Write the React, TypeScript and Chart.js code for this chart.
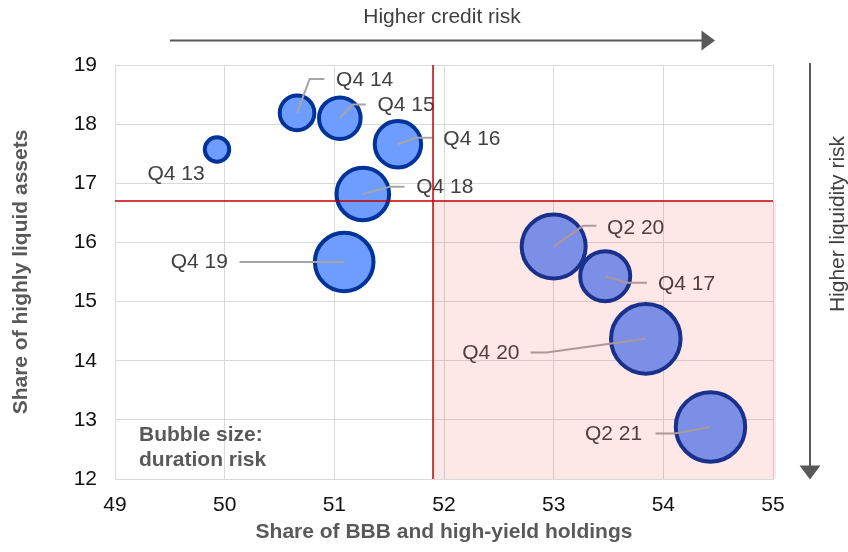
import { useEffect, useRef } from "react";
import { Chart, registerables } from "chart.js";

Chart.register(...registerables);

// Reporting periods
const periods = ["Q4 13", "Q4 14", "Q4 15", "Q4 16", "Q4 17", "Q4 18", "Q4 19", "Q2 20", "Q4 20", "Q2 21"];
// Share of BBB and high-yield holdings (%)
const bbbHighYieldShare = [49.93, 50.66, 51.05, 51.58, 53.47, 51.26, 51.09, 53.0, 53.84, 54.43];
// Share of highly liquid assets (%)
const highlyLiquidShare = [17.57, 18.19, 18.1, 17.66, 15.43, 16.82, 15.67, 15.93, 14.37, 12.88];
// Duration risk, expressed as bubble radius
const durationRisk = [12.2, 17.3, 20.8, 23.2, 25, 26.3, 29.3, 32, 34.8, 34.7];

// Quadrant thresholds
const creditThreshold = 51.9;
const liquidityThreshold = 16.7;

const xTicks = [49, 50, 51, 52, 53, 54, 55];
const yTicks = [12, 13, 14, 15, 16, 17, 18, 19];

const FONT = "'Liberation Sans', Arial, sans-serif";

// Label placement per bubble: leader path and text anchor, in pixel offsets from the bubble centre
type LabelPlacement = { leader: [number, number][]; text: [number, number]; align: CanvasTextAlign };
const labelPlacement: LabelPlacement[] = [
  { leader: [], text: [-69.6, 25], align: "left" },
  { leader: [[12.6, -34], [27.3, -34]], text: [39, -32.3], align: "left" },
  { leader: [[12.6, -13.7], [26, -13.7]], text: [37.6, -12.7], align: "left" },
  { leader: [[17.7, -6.4], [34.4, -6.4]], text: [45.4, -5.4], align: "left" },
  { leader: [[21.7, 6.7], [41.7, 6.7]], text: [52.7, 8], align: "left" },
  { leader: [[27.3, -7.3], [41.6, -7.3]], text: [53.3, -6.7], align: "left" },
  { leader: [[-104.7, 0]], text: [-116.3, 0], align: "right" },
  { leader: [[29.4, -20.7], [42.7, -20.7]], text: [53.4, -18.4], align: "left" },
  { leader: [[-99.3, 13.6], [-115.3, 13.6]], text: [-126.3, 14.6], align: "right" },
  { leader: [[-36, 6.6], [-55, 6.6]], text: [-68.3, 7.3], align: "right" },
];

const annotations = {
  id: "riskAnnotations",
  afterDatasetsDraw(chart: any) {
    const { ctx, chartArea, scales } = chart;
    const xs = scales.x;
    const ys = scales.y;
    const meta = chart.getDatasetMeta(0);
    ctx.save();

    // leader lines and period labels
    meta.data.forEach((el: any, i: number) => {
      const { x: cx, y: cy } = el.getProps(["x", "y"], true);
      const p = labelPlacement[i];
      if (p.leader.length) {
        ctx.beginPath();
        ctx.moveTo(cx, cy);
        p.leader.forEach(([dx, dy]) => ctx.lineTo(cx + dx, cy + dy));
        ctx.strokeStyle = "#a6a6a6";
        ctx.lineWidth = 2;
        ctx.stroke();
      }
      ctx.font = `21px ${FONT}`;
      ctx.fillStyle = "#404040";
      ctx.textAlign = p.align;
      ctx.textBaseline = "middle";
      ctx.fillText(periods[i], cx + p.text[0], cy + p.text[1]);
    });

    // bubble-size note
    ctx.font = `bold 21px ${FONT}`;
    ctx.fillStyle = "#595959";
    ctx.textAlign = "left";
    ctx.textBaseline = "middle";
    ctx.fillText("Bubble size:", 139, 435);
    ctx.fillText("duration risk", 139, 460);

    // high-risk quadrant shading
    const qx = xs.getPixelForValue(creditThreshold);
    const qy = ys.getPixelForValue(liquidityThreshold);
    ctx.fillStyle = "rgba(237,34,34,0.11)";
    ctx.fillRect(qx, qy, chartArea.right + 3 - qx, chartArea.bottom - qy);

    // threshold lines
    ctx.strokeStyle = "#c00000";
    ctx.lineWidth = 1.5;
    ctx.beginPath();
    ctx.moveTo(qx, chartArea.top);
    ctx.lineTo(qx, chartArea.bottom);
    ctx.moveTo(chartArea.left, qy);
    ctx.lineTo(chartArea.right, qy);
    ctx.stroke();
    ctx.restore();
  },
  afterDraw(chart: any) {
    const { ctx } = chart;
    ctx.save();
    ctx.strokeStyle = "#595959";
    ctx.fillStyle = "#595959";
    ctx.lineWidth = 2;

    // credit-risk arrow
    ctx.beginPath();
    ctx.moveTo(170, 40.5);
    ctx.lineTo(703, 40.5);
    ctx.stroke();
    ctx.beginPath();
    ctx.moveTo(701.5, 30.5);
    ctx.lineTo(715, 40.5);
    ctx.lineTo(701.5, 50.5);
    ctx.closePath();
    ctx.fill();

    // liquidity-risk arrow
    ctx.beginPath();
    ctx.moveTo(810, 63);
    ctx.lineTo(810, 467);
    ctx.stroke();
    ctx.beginPath();
    ctx.moveTo(799.5, 465.5);
    ctx.lineTo(810, 479.5);
    ctx.lineTo(820.5, 465.5);
    ctx.closePath();
    ctx.fill();

    ctx.font = `21px ${FONT}`;
    ctx.fillStyle = "#404040";
    ctx.textAlign = "center";
    ctx.textBaseline = "middle";
    ctx.fillText("Higher credit risk", 442, 17);

    ctx.translate(838, 224);
    ctx.rotate(-Math.PI / 2);
    ctx.fillText("Higher liquidity risk", 0, 0);
    ctx.restore();
  },
};

export default function App() {
  const canvasRef = useRef<HTMLCanvasElement | null>(null);

  useEffect(() => {
    const canvas = canvasRef.current;
    if (!canvas) return;
    const points = periods.map((_, i) => ({
      x: bbbHighYieldShare[i],
      y: highlyLiquidShare[i],
      r: durationRisk[i],
    }));
    const chart = new Chart(canvas, {
      type: "bubble",
      data: {
        datasets: [
          {
            label: "Duration risk",
            data: points,
            backgroundColor: "#6e9dff",
            borderColor: "#003399",
            borderWidth: 4,
          },
        ],
      },
      options: {
        animation: false,
        responsive: false,
        layout: { padding: { top: 65, right: 75, left: 0, bottom: 0 } },
        plugins: {
          legend: { display: false },
          tooltip: { enabled: false },
        },
        scales: {
          x: {
            type: "linear",
            min: 49,
            max: 55,
            afterBuildTicks: (s: any) => {
              s.ticks = xTicks.map((v) => ({ value: v }));
            },
            afterFit: (s: any) => {
              s.height = 73;
            },
            grid: { color: "#d9d9d9", drawTicks: false },
            border: { color: "#d9d9d9" },
            ticks: {
              padding: 14,
              color: "#111",
              font: { family: FONT, size: 21 },
            },
            title: {
              display: true,
              text: "Share of BBB and high-yield holdings",
              color: "#595959",
              font: { family: FONT, size: 21, weight: "bold" },
              padding: { top: 0, bottom: 7 },
            },
          },
          y: {
            type: "linear",
            min: 12,
            max: 19,
            afterBuildTicks: (s: any) => {
              s.ticks = yTicks.map((v) => ({ value: v }));
            },
            afterFit: (s: any) => {
              s.width = 115;
            },
            grid: { color: "#d9d9d9", drawTicks: false },
            border: { color: "#d9d9d9" },
            ticks: {
              padding: 18,
              color: "#111",
              font: { family: FONT, size: 21 },
            },
            title: {
              display: true,
              text: "Share of highly liquid assets",
              color: "#595959",
              font: { family: FONT, size: 21, weight: "bold" },
              padding: { top: 9, bottom: 0 },
            },
          },
        },
      },
      plugins: [annotations],
    });
    return () => chart.destroy();
  }, []);

  return (
    <div style={{ position: "absolute", left: 0, top: 0, width: 848, height: 552, background: "#fff" }}>
      <canvas ref={canvasRef} width={848} height={552} style={{ display: "block" }} />
    </div>
  );
}
